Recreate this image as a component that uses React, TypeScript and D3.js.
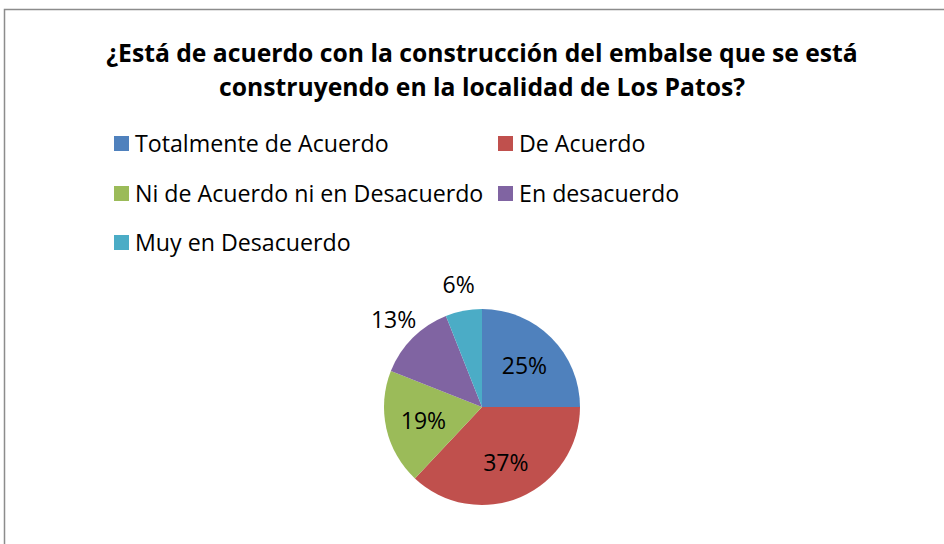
import React from "react";
import * as d3 from "d3";

const titleLines = [
  "¿Está de acuerdo con la construcción del embalse que se está",
  "construyendo en la localidad de Los Patos?",
];
const categories = [
  "Totalmente de Acuerdo",
  "De Acuerdo",
  "Ni de Acuerdo ni en Desacuerdo",
  "En desacuerdo",
  "Muy en Desacuerdo",
];
const values = [25, 37, 19, 13, 6];
const colors = ["#4F81BD", "#C0504D", "#9BBB59", "#8064A2", "#4BACC6"];
const labelInside = [true, true, true, false, false];

const W = 944;
const H = 544;
const FONT = "'Open Sans', Lato, sans-serif";

export default function App() {
  const cx = 482;
  const cy = 407;
  const r = 98;
  const pie = d3.pie<number>().sort(null).value((d) => d);
  const arcs = pie(values);
  const arc = d3.arc<d3.PieArcDatum<number>>().innerRadius(0).outerRadius(r);
  const total = d3.sum(values);

  const legendCols = [114, 498];
  const legendRows = [143, 193, 242];

  return (
    <svg
      width={W}
      height={H}
      style={{ position: "absolute", left: 0, top: 0, background: "#fff" }}
      fontFamily={FONT}
    >
      <rect x={4.5} y={9.5} width={W + 20} height={H + 20} fill="#fff" stroke="#8c8c8c" strokeWidth={1.5} />
      {titleLines.map((t, i) => (
        <text
          key={i}
          x={482}
          y={52 + i * 34}
          textAnchor="middle"
          dominantBaseline="central"
          fontWeight="bold"
          fontSize={24.7}
          fill="#000"
        >
          {t}
        </text>
      ))}
      {categories.map((c, i) => {
        const col = i % 2;
        const row = Math.floor(i / 2);
        const x = legendCols[col];
        const y = legendRows[row];
        return (
          <g key={c}>
            <rect x={x} y={y - 7} width={15} height={15} fill={colors[i]} />
            <text x={x + 21} y={y} dominantBaseline="central" fontSize={23.2} fill="#000">
              {c}
            </text>
          </g>
        );
      })}
      <g transform={`translate(${cx},${cy})`}>
        {arcs.map((a, i) => (
          <path key={i} d={arc(a) || ""} fill={colors[i]} />
        ))}
        {arcs.map((a, i) => {
          const mid = (a.startAngle + a.endAngle) / 2;
          const rr = labelInside[i] ? 60 : 125;
          const x = Math.sin(mid) * rr;
          const y = -Math.cos(mid) * rr;
          return (
            <text
              key={"l" + i}
              x={x}
              y={y}
              textAnchor="middle"
              dominantBaseline="central"
              fontSize={23}
              fill="#000"
            >
              {Math.round((a.data / total) * 100)}%
            </text>
          );
        })}
      </g>
    </svg>
  );
}
